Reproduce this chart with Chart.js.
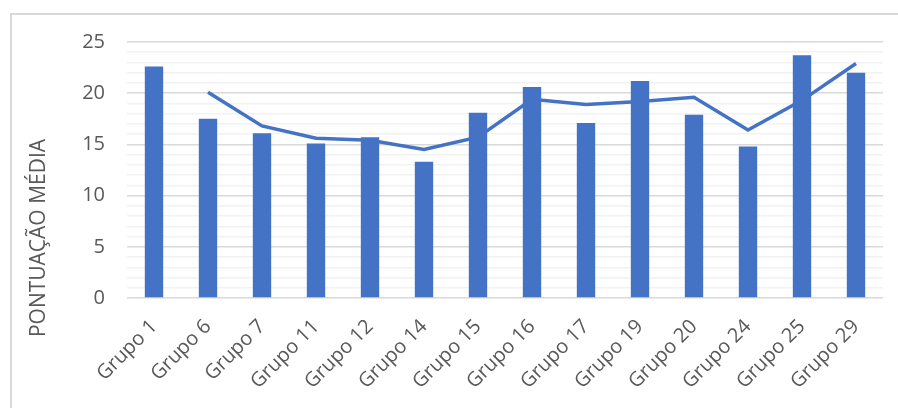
<!DOCTYPE html>
<html>
<head>
<meta charset="utf-8">
<script src="https://cdn.jsdelivr.net/npm/chart.js@4/dist/chart.umd.min.js"></script>
<style>
  body { margin: 0; background: #fff; }
  #frame { position: absolute; left: 10px; top: 13px; width: 900px; height: 400px;
           border-left: 2px solid #d9d9d9; border-top: 2px solid #d9d9d9; }
  #wrap { position: absolute; left: 0; top: 0; width: 898px; height: 408px; }
</style>
</head>
<body>
<div id="frame"></div>
<div id="wrap"><canvas id="chart-area"></canvas></div>
<script>
var grupos = ['Grupo 1', 'Grupo 6', 'Grupo 7', 'Grupo 11', 'Grupo 12', 'Grupo 14', 'Grupo 15',
              'Grupo 16', 'Grupo 17', 'Grupo 19', 'Grupo 20', 'Grupo 24', 'Grupo 25', 'Grupo 29'];
var mediaGrupo = [22.6, 17.5, 16.1, 15.1, 15.7, 13.3, 18.1, 20.6, 17.1, 21.2, 17.9, 14.8, 23.7, 22.0];
var tendencia = [null, 20.1, 16.8, 15.6, 15.4, 14.5, 15.7, 19.4, 18.9, 19.2, 19.6, 16.4, 19.3, 22.9];
var yTicks = [0, 5, 10, 15, 20, 25];
var tituloY = 'PONTUAÇÃO MÉDIA';

var azul = '#4472C4';
var cinza = '#595959';
var fonte = "'Open Sans', sans-serif";

// vertical axis title, centred lower than the plot like the original sheet chart
var eixoTitulo = {
  id: 'eixoTitulo',
  afterDraw: function(chart) {
    var ctx = chart.ctx;
    ctx.save();
    ctx.translate(39, 238);
    ctx.rotate(-Math.PI / 2);
    ctx.font = '21px ' + fonte;
    ctx.fillStyle = cinza;
    ctx.textAlign = 'center';
    ctx.textBaseline = 'middle';
    ctx.fillText(tituloY, 0, 0);
    ctx.restore();
  }
};

var config = {
  type: 'bar',
  data: {
    labels: grupos,
    datasets: [{
      type: 'line',
      data: tendencia,
      borderColor: azul,
      borderWidth: 3.5,
      pointRadius: 0,
      tension: 0,
      spanGaps: true,
      order: 0
    }, {
      type: 'bar',
      data: mediaGrupo,
      backgroundColor: azul,
      barPercentage: 0.34,
      categoryPercentage: 1.0,
      order: 1
    }]
  },
  options: {
    responsive: true,
    maintainAspectRatio: false,
    animation: false,
    layout: {
      padding: { top: 42, right: 15, left: 0, bottom: 0 }
    },
    plugins: {
      legend: { display: false },
      tooltip: { enabled: false },
      title: { display: false }
    },
    scales: {
      x: {
        grid: { display: false },
        border: { display: false },
        ticks: {
          color: cinza,
          font: { family: fonte, size: 20 },
          minRotation: 45,
          maxRotation: 45,
          autoSkip: false,
          padding: 9
        },
        afterFit: function(scale) { scale.height = 110; }
      },
      y: {
        min: 0,
        max: 25,
        border: { display: false },
        grid: {
          drawTicks: false,
          color: function(c) { return yTicks.indexOf(c.tick.value) >= 0 ? '#d9d9d9' : '#f2f2f2'; },
          lineWidth: 1.5
        },
        ticks: {
          stepSize: 1,
          autoSkip: false,
          color: cinza,
          font: { family: fonte, size: 20 },
          padding: 22,
          callback: function(v) { return yTicks.indexOf(v) >= 0 ? v : ''; }
        },
        afterFit: function(scale) { scale.width = 127; }
      }
    }
  },
  plugins: [eixoTitulo]
};

window.onload = function() {
  var ctx = document.getElementById('chart-area').getContext('2d');
  window.myChart = new Chart(ctx, config);
};
</script>
</body>
</html>
